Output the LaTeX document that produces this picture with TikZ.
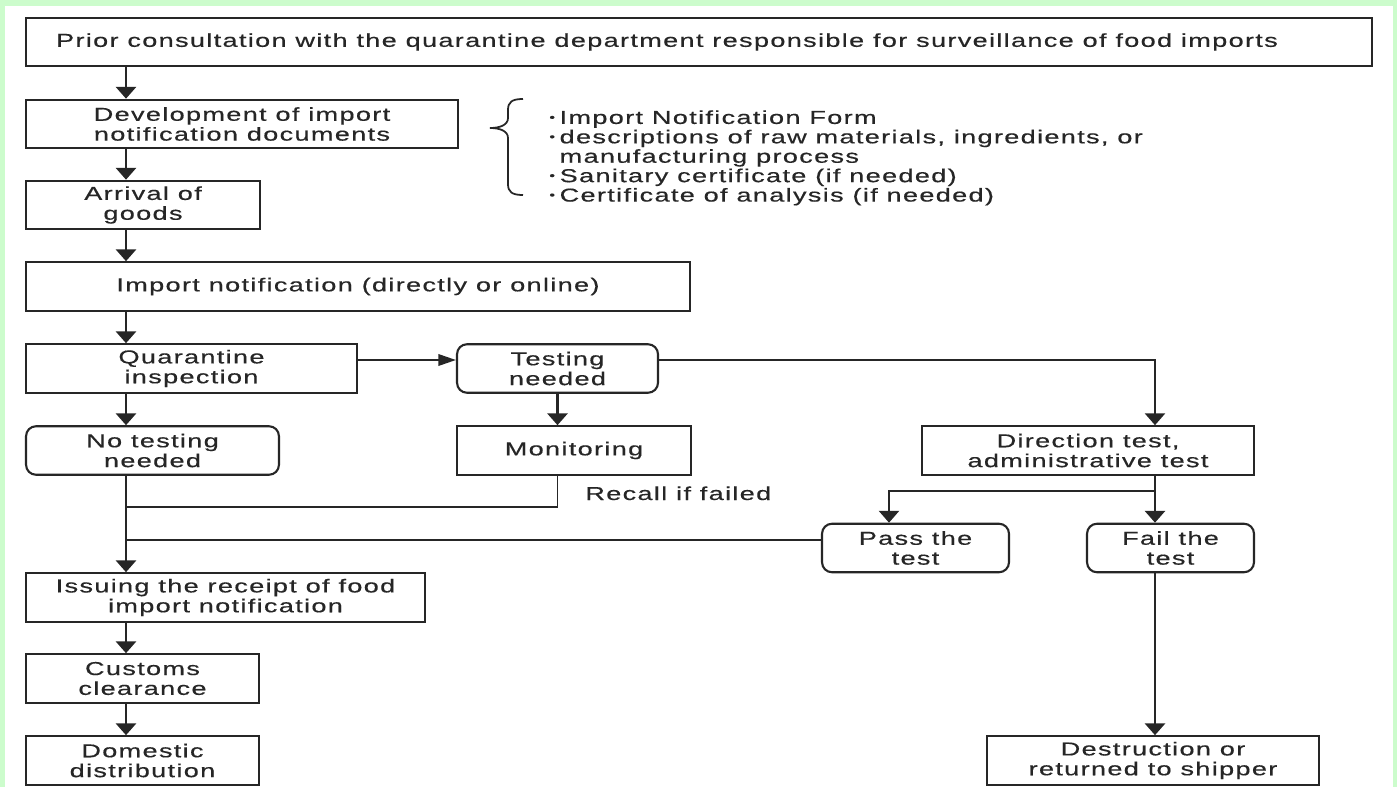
\documentclass[tikz,border=0pt]{standalone}
\usepackage{fontspec}
\setmainfont{Liberation Sans}[FakeStretch=1.45,LetterSpace=7,FakeBold=0.4]
\usetikzlibrary{arrows.meta,calc}
\definecolor{framegreen}{HTML}{CCFCCC}
\definecolor{ink}{HTML}{262626}
\newcommand\docdot{\makebox[0.55em][l]{\raisebox{0.28ex}{\scalebox{0.6}{•}}}}

\begin{document}
\begin{tikzpicture}[x=0.02cm, y=-0.02cm,
  every node/.style={font=\fontsize{10.65}{11.3}\selectfont, align=center, text=ink},
  stage/.style={draw=ink, line width=1.2pt, inner sep=0pt, minimum height=0.97cm},
  choice/.style={stage, rounded corners=0.2cm},
  flow/.style={-{Triangle[length=6.8pt,width=11.5pt]}, draw=ink, line width=1.6pt},
  hflow/.style={-{Triangle[length=10pt,width=6.5pt]}, draw=ink, line width=1.2pt},
  joinline/.style={draw=ink, line width=1.1pt}]

  % =========================
  % frame
  % =========================
  \fill[framegreen] (0,0) rectangle (1397,787);
  \fill[white] (5,6) rectangle (1393,787);
  \useasboundingbox (0,0) rectangle (1397,787);

  % =========================
  % left column
  % =========================
  \node[stage, minimum width=26.92cm] (prior) at (699,42)
    {\hspace*{-1.28cm}Prior consultation with the quarantine department responsible for surveillance of food imports};
  \node[stage, minimum width=8.64cm] (dev) at (242,124)
    {Development of import\\notification documents};
  \node[stage, minimum width=4.68cm] (arr) at (143,205) {Arrival of\\goods};
  \node[stage, minimum width=13.28cm] (imp) at (358,286.5)
    {Import notification (directly or online)};
  \node[stage, minimum width=6.62cm] (quar) at (191.5,368.5) {Quarantine\\inspection};
  \node[choice, minimum width=5.06cm] (nont) at (152.5,450.5) {No testing\\needed};
  \node[stage, minimum width=7.98cm] (iss) at (225.5,597.5)
    {Issuing the receipt of food\\import notification};
  \node[stage, minimum width=4.66cm] (cust) at (142.5,678.5) {Customs\\clearance};
  \node[stage, minimum width=4.66cm] (dom) at (142.5,760.5) {Domestic\\distribution};

  % =========================
  % testing branch
  % =========================
  \node[choice, minimum width=4.02cm] (test) at (557.5,368.5) {Testing\\needed};
  \node[stage, minimum width=4.68cm] (mon) at (574,450.5) {Monitoring};
  \node[stage, minimum width=6.64cm] (dir) at (1088,450.5)
    {Direction test,\\administrative test};
  \node[choice, minimum width=3.74cm] (pass) at (915.5,548) {Pass the\\test};
  \node[choice, minimum width=3.34cm] (fail) at (1170.5,548) {Fail the\\test};
  \node[stage, minimum width=6.64cm] (dest) at (1153,760.5)
    {Destruction or\\returned to shipper};
  \node[anchor=base west, inner sep=0pt] (recall) at (585,500) {Recall if failed};

  % documents list with brace
  \draw[ink, line width=1pt] (523,99) .. controls (512,99) and (508,102) .. (508,110)
    -- (508,118) .. controls (508,125) and (500,128) .. (490,128)
    .. controls (500,128) and (508,131) .. (508,138)
    -- (508,184) .. controls (508,192) and (512,195) .. (523,195);
  \node[anchor=north west, inner sep=0pt, align=left,
        font=\fontsize{10.65}{11.05}\selectfont] (docs) at (549,110)
    {\docdot Import Notification Form\\
     \docdot descriptions of raw materials, ingredients, or\\
     \phantom{\docdot}manufacturing process\\
     \docdot Sanitary certificate (if needed)\\
     \docdot Certificate of analysis (if needed)};

  % =========================
  % connectors
  % =========================
  \coordinate (spine) at (126,0);
  \coordinate (rail) at (1155,0);
  \coordinate (fork) at (1155,491);
  \coordinate (passx) at (889,0);
  \coordinate (mjoin) at (126,507);
  \coordinate (pjoin) at (126,540);

  \draw[flow] (spine |- prior.south) -- (spine |- dev.north);
  \draw[flow] (spine |- dev.south) -- (spine |- arr.north);
  \draw[flow] (spine |- arr.south) -- (spine |- imp.north);
  \draw[flow] (spine |- imp.south) -- (spine |- quar.north);
  \draw[flow] (spine |- quar.south) -- (spine |- nont.north);
  \draw[flow] (spine |- nont.south) -- (spine |- iss.north);
  \draw[flow] (spine |- iss.south) -- (spine |- cust.north);
  \draw[flow] (spine |- cust.south) -- (spine |- dom.north);

  \draw[hflow] ([yshift=0.17cm]quar.east) -- ([yshift=0.17cm]quar.east -| test.west);
  \draw[flow] (test.south) -- (test.south |- mon.north);
  \draw[joinline] (test.south |- mon.south) |- (mjoin);

  \draw[flow, line width=1.3pt] ([yshift=0.17cm]test.east) -| (rail |- dir.north);
  \draw[flow] (rail |- dir.south) -- (rail |- fail.north);
  \draw[flow, line width=1.3pt] (fork) -| (passx |- pass.north);
  \draw[joinline] ([yshift=0.16cm]pass.west) -- (pjoin);
  \draw[flow] (rail |- fail.south) -- (rail |- dest.north);

\end{tikzpicture}
\end{document}
